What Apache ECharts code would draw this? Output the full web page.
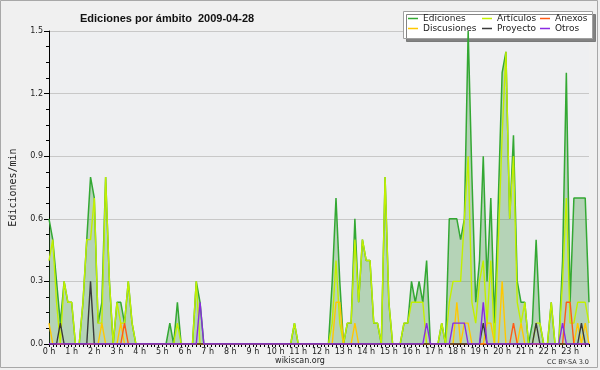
<!DOCTYPE html>
<html><head><meta charset="utf-8">
<script src="https://cdn.jsdelivr.net/npm/echarts@6/dist/echarts.min.js"></script>
<style>html,body{margin:0;padding:0;background:#f0f0f0}#c{width:600px;height:370px}</style>
</head><body><div id="c"></div>
<script>
const hourLabels = ['0 h','1 h','2 h','3 h','4 h','5 h','6 h','7 h','8 h','9 h','10 h','11 h','12 h','13 h','14 h','15 h','16 h','17 h','18 h','19 h','20 h','21 h','22 h','23 h'];
const yTicks = [0, 0.3, 0.6, 0.9, 1.2, 1.5];
// 10-minute bins, 144 per series (edits per minute)
const ediciones = [
 0.6,0.5,0.3,0.1,0.3,0.2, 0.2,0,0,0.2,0.5,0.8, 0.7,0.1,0.2,0.8,0.3,0, 0.2,0.2,0.1,0.3,0.1,0,
 0,0,0,0,0,0, 0,0,0.1,0,0.2,0, 0,0,0,0.3,0.2,0, 0,0,0,0,0,0,
 0,0,0,0,0,0, 0,0,0,0,0,0, 0,0,0,0,0,0.1, 0,0,0,0,0,0,
 0,0,0,0.3,0.7,0.3, 0,0.1,0.1,0.6,0.2,0.5, 0.4,0.4,0.1,0.1,0,0.8, 0.2,0,0,0,0.1,0.1,
 0.3,0.2,0.3,0.2,0.4,0, 0,0,0.1,0,0.6,0.6, 0.6,0.5,0.6,1.5,0.8,0.2, 0.4,0.9,0.3,0.7,0.1,0.7,
 1.3,1.4,0.6,1.0,0.3,0.2, 0.2,0,0.1,0.5,0.1,0, 0,0.2,0,0,0.4,1.3, 0.2,0.7,0.7,0.7,0.7,0.2
];
const articulos = [
 0.4,0.5,0.2,0,0.3,0.2, 0.2,0,0,0.2,0.5,0.5, 0.7,0.1,0.1,0.8,0.3,0, 0.2,0.1,0.1,0.3,0.1,0,
 0,0,0,0,0,0, 0,0,0,0,0.1,0, 0,0,0,0.3,0,0, 0,0,0,0,0,0,
 0,0,0,0,0,0, 0,0,0,0,0,0, 0,0,0,0,0,0.1, 0,0,0,0,0,0,
 0,0,0,0.1,0.4,0.1, 0,0.1,0.1,0.5,0.2,0.5, 0.4,0.4,0.1,0.1,0,0.8, 0.2,0,0,0,0.1,0.1,
 0.2,0.2,0.2,0.2,0,0, 0,0,0.1,0,0.2,0.3, 0.3,0.3,0.6,0.9,0.2,0.1, 0.3,0.4,0.1,0.4,0,0.5,
 1.0,1.4,0.6,0.9,0.2,0.1, 0.2,0,0,0.1,0.1,0, 0,0.2,0,0,0.3,0.7, 0.1,0.1,0.2,0.2,0.2,0.1
];
const anexos = [
 0,0,0,0,0,0, 0,0,0,0,0,0, 0,0,0,0,0,0, 0,0,0.1,0,0,0,
 0,0,0,0,0,0, 0,0,0,0,0,0, 0,0,0,0,0,0, 0,0,0,0,0,0,
 0,0,0,0,0,0, 0,0,0,0,0,0, 0,0,0,0,0,0, 0,0,0,0,0,0,
 0,0,0,0,0,0, 0,0,0,0,0,0, 0,0,0,0,0,0, 0,0,0,0,0,0,
 0,0,0,0,0,0, 0,0,0,0,0,0, 0,0,0,0,0,0, 0,0,0,0,0,0,
 0,0,0,0.1,0,0, 0,0,0,0,0,0, 0,0,0,0,0,0.2, 0.2,0,0,0,0,0
];
const discusiones = [
 0.1,0,0,0,0,0, 0,0,0,0,0,0, 0,0,0.1,0,0,0, 0,0.1,0,0,0,0,
 0,0,0,0,0,0, 0,0,0,0,0,0, 0,0,0,0,0,0, 0,0,0,0,0,0,
 0,0,0,0,0,0, 0,0,0,0,0,0, 0,0,0,0,0,0, 0,0,0,0,0,0,
 0,0,0,0,0.2,0.2, 0,0,0,0.1,0,0, 0,0,0,0,0,0, 0,0,0,0,0,0,
 0,0,0,0,0,0, 0,0,0,0,0,0, 0.2,0,0.1,0.1,0,0, 0,0,0.1,0.1,0,0,
 0.3,0,0,0,0,0.1, 0,0,0,0,0,0, 0,0,0,0,0,0, 0,0,0.1,0,0.1,0
];
const proyecto = [
 0,0,0,0.1,0,0, 0,0,0,0,0,0.3, 0,0,0,0,0,0, 0,0,0,0,0,0,
 0,0,0,0,0,0, 0,0,0,0,0,0, 0,0,0,0,0,0, 0,0,0,0,0,0,
 0,0,0,0,0,0, 0,0,0,0,0,0, 0,0,0,0,0,0, 0,0,0,0,0,0,
 0,0,0,0,0,0, 0,0,0,0,0,0, 0,0,0,0,0,0, 0,0,0,0,0,0,
 0,0,0,0,0,0, 0,0,0,0,0,0, 0,0,0,0,0,0, 0,0.1,0,0,0,0,
 0,0,0,0,0,0, 0,0,0,0.1,0,0, 0,0,0,0,0,0, 0,0,0,0.1,0,0
];
const otros = [
 0,0,0,0,0,0, 0,0,0,0,0,0, 0,0,0,0,0,0, 0,0,0,0,0,0,
 0,0,0,0,0,0, 0,0,0,0,0,0, 0,0,0,0,0.2,0, 0,0,0,0,0,0,
 0,0,0,0,0,0, 0,0,0,0,0,0, 0,0,0,0,0,0, 0,0,0,0,0,0,
 0,0,0,0,0,0, 0,0,0,0,0,0, 0,0,0,0,0,0, 0,0,0,0,0,0,
 0,0,0,0,0.1,0, 0,0,0,0,0,0.1, 0.1,0.1,0.1,0,0,0, 0,0.2,0,0,0,0,
 0,0,0,0,0,0, 0,0,0,0,0,0, 0,0,0,0,0.1,0, 0,0,0,0,0,0
];

const categories = [];
for (let i = 0; i < ediciones.length; i++) {
  const h = Math.floor(i / 6), m = (i % 6) * 10;
  categories.push(h + ':' + (m < 10 ? '0' : '') + m);
}

const FONT = 'DejaVu Sans';
const colors = {
  Ediciones: '#33a833', 'Artículos': '#c2f000', Anexos: '#ff5a14',
  Discusiones: '#ffc800', Proyecto: '#3a3a3a', Otros: '#8a2be2'
};
function lineSeries(name, data, extra) {
  return Object.assign({
    name, type: 'line', data, symbol: 'none', smooth: false,
    lineStyle: { width: 1.4, color: colors[name] }, itemStyle: { color: colors[name] },
    emphasis: { disabled: true }, animation: false
  }, extra || {});
}
function legendItem(name, left, top) {
  return {
    data: [name], left, top, itemWidth: 10, itemHeight: 1.5, icon: 'rect', padding: 0,
    selectedMode: false, z: 12,
    textStyle: { fontFamily: FONT, fontSize: 9, color: '#222' }
  };
}

const chart = echarts.init(document.getElementById('c'), null, { renderer: 'canvas' });
chart.setOption({
  backgroundColor: '#f0f0f0',
  animation: false,
  title: {
    text: 'Ediciones por ámbito  2009-04-28', left: 75, top: 8,
    textStyle: { fontFamily: 'Liberation Sans', fontWeight: 'bold', fontSize: 11, color: '#111' }
  },
  grid: { left: 46, top: 31, width: 543, height: 313, show: true, backgroundColor: '#eeeff1', borderWidth: 0 },
  xAxis: {
    type: 'category', data: categories, boundaryGap: false,
    axisLine: { lineStyle: { color: '#000', width: 1 } },
    axisTick: { interval: 0, length: 3, lineStyle: { color: '#000' } },
    axisLabel: {
      interval: 5, margin: 4, fontFamily: FONT, fontSize: 8, color: '#222',
      formatter: (v, idx) => hourLabels[Math.floor(idx / 6)]
    },
    splitLine: { show: false }
  },
  yAxis: {
    type: 'value', min: yTicks[0], max: yTicks[yTicks.length - 1], interval: 0.3,
    name: 'Ediciones/min', nameLocation: 'middle', nameGap: 31,
    nameTextStyle: { fontFamily: 'DejaVu Sans Mono', fontSize: 10, color: '#222' },
    axisLine: { show: true, lineStyle: { color: '#000' } },
    axisTick: { show: true, length: 5, lineStyle: { color: '#000' } },
    minorTick: { show: true, splitNumber: 4, length: 3, lineStyle: { color: '#000' } },
    axisLabel: { formatter: v => v.toFixed(1), fontFamily: FONT, fontSize: 8, color: '#222', margin: 6 },
    splitLine: { lineStyle: { color: '#c8c8c8', width: 1 } }
  },
  legend: [
    legendItem('Ediciones', 408, 14), legendItem('Artículos', 482, 14), legendItem('Anexos', 540, 14),
    legendItem('Discusiones', 408, 24), legendItem('Proyecto', 482, 24), legendItem('Otros', 540, 24)
  ],
  graphic: [
    { type: 'rect', z: 1, shape: { x: 403.5, y: 11.5, width: 189, height: 27 },
      style: { fill: '#ffffff', stroke: '#a0a0a0', lineWidth: 1, shadowColor: 'rgba(110,110,110,0.85)', shadowOffsetX: 3, shadowOffsetY: 3, shadowBlur: 0 } },
    { type: 'text', z: 10, x: 300, y: 361, style: { text: 'wikiscan.org', fontFamily: FONT, fontSize: 8, fill: '#222', align: 'center', verticalAlign: 'middle' } },
    { type: 'text', z: 10, x: 589, y: 362, style: { text: 'CC BY-SA 3.0', fontFamily: FONT, fontSize: 6.5, fill: '#333', align: 'right', verticalAlign: 'middle' } },
    { type: 'rect', z: 10, shape: { x: 0.5, y: 0.5, width: 597, height: 367 }, style: { fill: null, stroke: '#a8a8a8', lineWidth: 1 } }
  ],
  series: [
    lineSeries('Ediciones', ediciones, { areaStyle: { color: 'rgba(60,150,60,0.45)' }, lineStyle: { width: 1.5, color: colors.Ediciones }, z: 2 }),
    lineSeries('Artículos', articulos, { z: 3 }),
    lineSeries('Discusiones', discusiones, { z: 3 }),
    lineSeries('Anexos', anexos, { z: 3 }),
    lineSeries('Proyecto', proyecto, { z: 3 }),
    lineSeries('Otros', otros, { z: 3 })
  ]
});
</script></body></html>
